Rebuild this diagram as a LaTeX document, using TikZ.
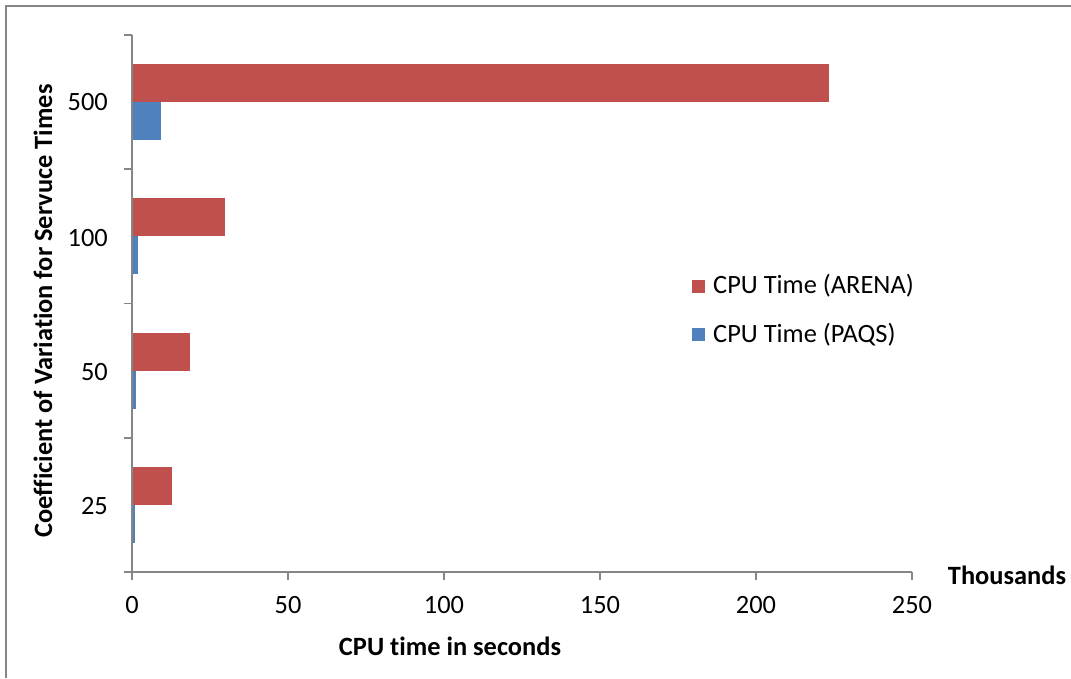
\documentclass[tikz,border=0pt]{standalone}
\usepackage{fontspec}
\setmainfont[Ligatures={NoCommon}]{Carlito}
\definecolor{axisgray}{HTML}{868686}
\definecolor{arena}{HTML}{C0504D}
\definecolor{paqs}{HTML}{4F81BD}
\begin{document}
\begin{tikzpicture}[x=1pt,y=-1pt,
  lbl/.style={font=\fontsize{26.4}{31}\selectfont, inner sep=0pt},
  blbl/.style={font=\fontsize{26.4}{31}\selectfont\bfseries, inner sep=0pt},
  axisline/.style={draw=axisgray, line width=1.6pt},
  arenabar/.style={fill=arena},
  paqsbar/.style={fill=paqs}]
\path[use as bounding box] (0,0) rectangle (1071,678);
% frame (top and left edges only visible)
\draw[axisgray, line width=2pt] (6,678) -- (6,6) -- (1071,6);
% axes
\coordinate (o) at (132,572);
\coordinate (ytop) at (132,35);
\coordinate (xend) at (912,572);
\draw[axisline] (ytop) -- (o) -- (xend);
% y ticks
\foreach \y in {35,169.25,303.5,437.75,572} \draw[axisline] (124,\y) -- (132,\y);
% x ticks and labels
\foreach \v in {0,50,100,150,200,250} {
  \draw[axisline] (132+3.12*\v,572) -- (132+3.12*\v,580);
  \node[lbl] (xt\v) at (132+3.12*\v,605) {\v};
}
% category labels
\node[lbl, anchor=east] (c500) at (108,102) {500};
\node[lbl, anchor=east] (c100) at (108,238) {100};
\node[lbl, anchor=east] (c50) at (108,372) {50};
\node[lbl, anchor=east] (c25) at (108,506) {25};
% bars: band tops 35, 169.25, 303.5, 437.75
\newcommand{\barpair}[3]{%
  \fill[arenabar] (132.5,#1+29) rectangle (132+3.12*#2,#1+67);
  \fill[paqsbar] (132.5,#1+67) rectangle (132+3.12*#3,#1+105);
}
\barpair{35}{223.4}{9.3}
\barpair{169.25}{29.7}{2.0}
\barpair{303.5}{18.6}{1.2}
\barpair{437.75}{12.7}{0.9}
% legend
\fill[arena] (692,280) rectangle (705,293);
\node[lbl, anchor=west] (lga) at (713,286) {CPU Time (ARENA)};
\fill[paqs] (692,328) rectangle (705,341);
\node[lbl, anchor=west] (lgp) at (713,335) {CPU Time (PAQS)};
% axis titles
\node[blbl] (xtitle) at (450,646) {CPU time in seconds};
\node[blbl] (units) at (1007,575) {Thousands};
\node[blbl, rotate=90] (ytitle) at (43,311) {Coefficient of Variation for Servuce Times};
\end{tikzpicture}
\end{document}
